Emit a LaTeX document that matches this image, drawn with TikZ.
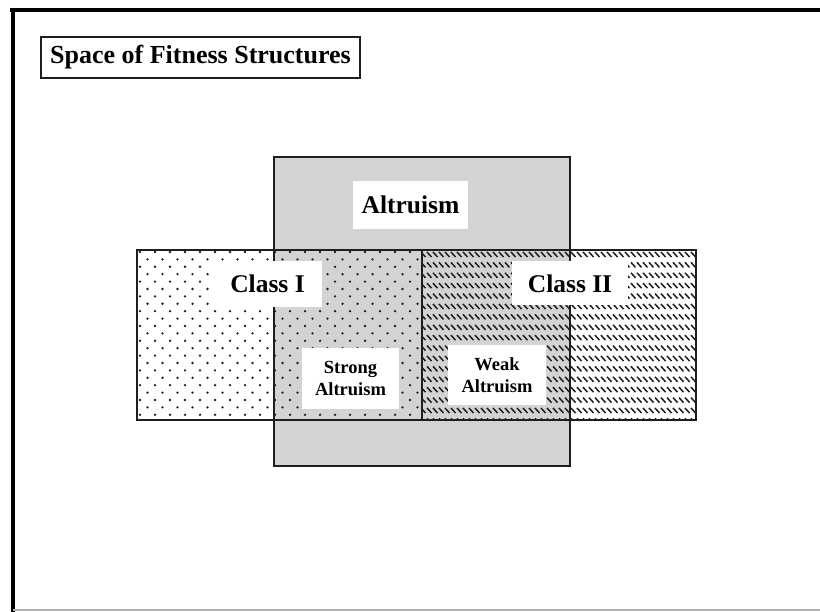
\documentclass[tikz,border=0pt]{standalone}
\usepackage{fontspec}
\setmainfont{Liberation Serif}
\definecolor{altgray}{RGB}{211,211,211}
\definecolor{ink}{RGB}{30,30,30}
\begin{document}
\begin{tikzpicture}[x=1pt,y=-1pt,
  frameline/.style={line width=4pt,black},
  regionborder/.style={draw=ink,line width=1.1pt},
  whitelabel/.style={fill=white,inner sep=0pt,font=\bfseries\fontsize{25.5}{28}\selectfont,align=center},
  smalllabel/.style={fill=white,inner sep=0pt,font=\bfseries\fontsize{18.5}{22}\selectfont,align=center},
  titlebox/.style={draw=ink,line width=1.3pt,fill=white,inner sep=0pt,font=\bfseries\fontsize{26}{28}\selectfont}]
\useasboundingbox (0,0) rectangle (820,612);
\fill[white] (0,0) rectangle (820,612);
% frame
\draw[frameline] (10,10) -- (820,10);
\draw[frameline] (12.5,8) -- (12.5,612);
\draw[gray!60,line width=1.2pt] (12.5,610) -- (820,610);
% regions
\coordinate (altNW) at (274,157);
\coordinate (altSE) at (570,466);
\coordinate (c1NW) at (137,250);
\coordinate (c1SE) at (422,420);
\coordinate (c2NW) at (422,250);
\coordinate (c2SE) at (696,420);
\fill[altgray] (altNW) rectangle (altSE);
% dots for class I
\begin{scope}
\clip (c1NW) rectangle (c1SE);
\foreach \j in {0,...,23}{
  \pgfmathsetmacro\off{mod(\j,2)*7.5}
  \foreach \i in {0,...,19}{
    \fill[ink] (140+\off+\i*15, 252+\j*7.4) circle (1.3pt);
  }
}
\end{scope}
% hatch for class II
\begin{scope}
\clip (c2NW) rectangle (c2SE);
\foreach \j in {0,...,16}{
  \foreach \i in {0,...,46}{
    \draw[ink,line width=1.5pt] (421+\i*6, 252+\j*10.4) -- ++(4.5,5);
  }
}
\end{scope}
% borders
\draw[regionborder] (altNW) rectangle (altSE);
\draw[regionborder] (c1NW) rectangle (c1SE);
\draw[regionborder] (c2NW) rectangle (c2SE);
% labels
\node[whitelabel,minimum width=115pt,minimum height=48pt] (altlab) at (410.5,205) {Altruism};
\node[whitelabel,minimum width=109pt,minimum height=46pt] (c1lab) at (267.5,284) {Class I};
\node[whitelabel,minimum width=116pt,minimum height=44pt] (c2lab) at (570,283.5) {Class II};
\node[smalllabel,minimum width=97pt,minimum height=61pt] (stronglab) at (350.5,378.5) {Strong\\Altruism};
\node[smalllabel,minimum width=98pt,minimum height=60pt] (weaklab) at (497,375) {Weak\\Altruism};
\node[titlebox,minimum width=319pt,minimum height=41pt] (title) at (200.5,57.5) {Space of Fitness Structures};
\end{tikzpicture}
\end{document}
